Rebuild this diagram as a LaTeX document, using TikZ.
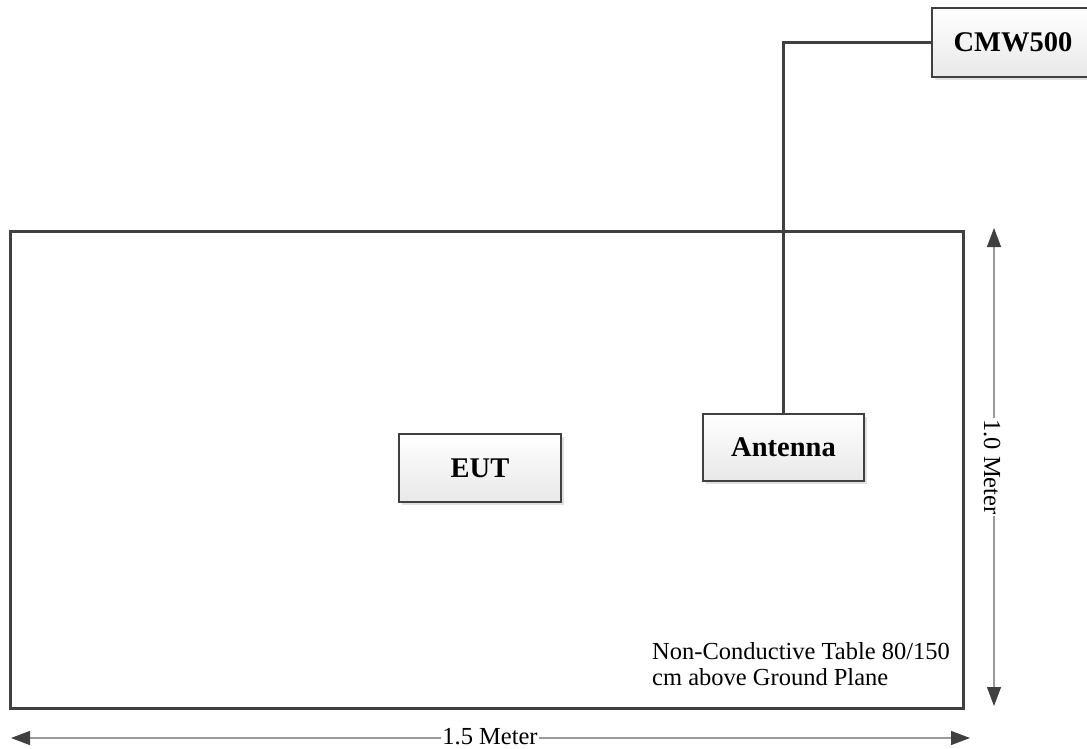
\documentclass[tikz,border=0pt]{standalone}
\usepackage{fontspec}
\setmainfont{Liberation Serif}
\usetikzlibrary{arrows.meta,shadows,calc}
\definecolor{edge}{HTML}{404040}
\definecolor{dimline}{HTML}{9A9A9A}
\definecolor{boxbot}{HTML}{E8E8E8}
\begin{document}
\begin{tikzpicture}[x=1pt,y=-1pt,
  unitbox/.style={draw=edge,line width=2.2pt,top color=white,bottom color=boxbot,
    minimum width=162pt,minimum height=68pt,inner sep=0pt,
    font=\fontsize{28.5}{30}\selectfont\bfseries,
    drop shadow={shadow xshift=3pt,shadow yshift=-3pt,fill=black!12,opacity=1}},
  dimarrow/.style={draw=dimline,line width=1.3pt,
    {Triangle[length=19pt,width=14pt,color=edge]}-{Triangle[length=19pt,width=14pt,color=edge]}},
  dimlabel/.style={fill=white,inner sep=1pt,font=\fontsize{24.5}{26}\selectfont},
  cable/.style={draw=edge,line width=2.2pt},
  tablebox/.style={draw=edge,line width=3pt}]
\useasboundingbox (0,0) rectangle (1087,749);
\clip (0,0) rectangle (1087,749);
% table
\draw[tablebox] (10,231) rectangle (963,708);
\node[anchor=base west,align=left,inner sep=0pt,font=\fontsize{24.5}{26}\selectfont] (note) at (652,685)
  {Non-Conductive Table 80/150\\cm above Ground Plane};
% boxes
\node[unitbox] (eut) at (480,468) {EUT};
\node[unitbox,minimum width=161pt,minimum height=67pt] (ant) at (783.5,447.5) {Antenna};
\node[unitbox,minimum height=69pt] (cmw) at (1013,42.5) {CMW500};
% cable
\draw[cable] (cmw.west) -| (ant.north);
% dimensions
\coordinate (vt) at (994,228);
\coordinate (vb) at (994,706);
\coordinate (hl) at (11,738);
\coordinate (hr) at (970,738);
\draw[dimarrow] (vt) -- (vb);
\draw[dimarrow] (hl) -- (hr);
\node[dimlabel,rotate=-90] (vlab) at (992,467) {1.0 Meter};
\node[dimlabel] (hlab) at (490,737) {1.5 Meter};
\end{tikzpicture}
\end{document}
